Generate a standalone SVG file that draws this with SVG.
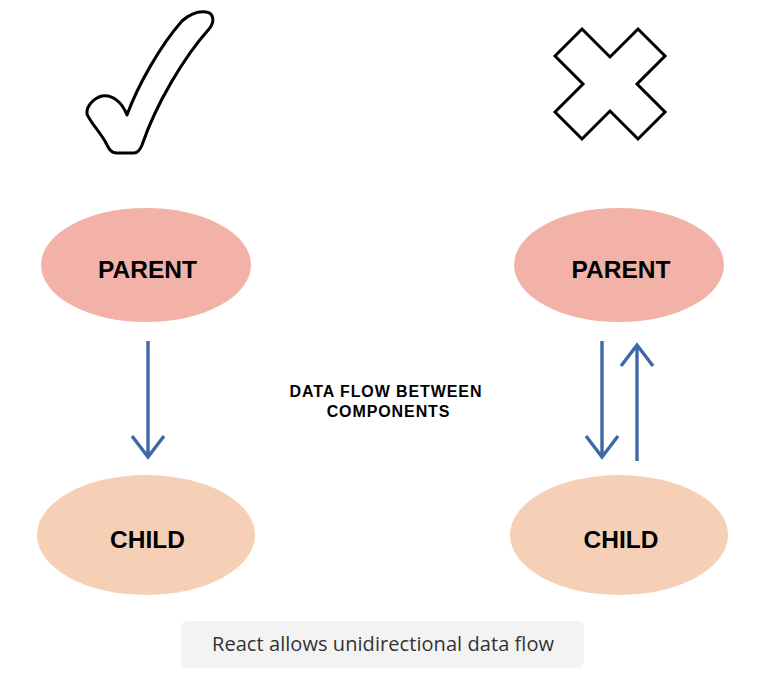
<svg xmlns="http://www.w3.org/2000/svg" width="760" height="692" viewBox="0 0 760 692">
<style>
.parent{fill:#F2B2A8}
.child{fill:#F6D0B6}
.lbl{font-family:"Liberation Sans",Arial,sans-serif;font-weight:bold;font-size:24.5px;fill:#000;text-anchor:middle}
.conn{fill:none;stroke:#3D6AA6;stroke-width:3.4;stroke-linecap:butt;stroke-linejoin:miter}
.icon{fill:#fff;stroke:#000;stroke-width:3;stroke-linejoin:round}
.title{font-family:"Liberation Sans",Arial,sans-serif;font-weight:bold;font-size:16px;letter-spacing:0.9px;fill:#000;text-anchor:middle}
</style>
<rect width="760" height="692" fill="#fff"/>
<g id="check">
<path class="icon" d="M127,115 C122,102 112,94 102,96 C94,98 86,106 87,114 C90,122 100,132 106,143 C109,149 111,153 117,153 L134,153 C138,153 140,150 142,145 C156,104 184,57 209,29 C215,22 214,13 206,12 C199,11 190,14 182,21 C160,46 138,85 127,115 Z"/>
</g>
<g id="cross">
<polygon class="icon" points="582,29 610,57 638,29 665,56 637,84 665,112 638,139 610,111 582,139 555,112 583,84 555,56" style="stroke-linejoin:miter"/>
</g>
<g id="parent-left">
<ellipse class="parent" cx="146" cy="265" rx="105" ry="57"/>
<text class="lbl" x="147.5" y="278">PARENT</text>
</g>
<g id="child-left">
<ellipse class="child" cx="146" cy="535" rx="109" ry="60"/>
<text class="lbl" x="147.5" y="548">CHILD</text>
</g>
<g id="parent-right">
<ellipse class="parent" cx="619" cy="265" rx="105" ry="57"/>
<text class="lbl" x="621" y="278">PARENT</text>
</g>
<g id="child-right">
<ellipse class="child" cx="619" cy="535" rx="109" ry="60"/>
<text class="lbl" x="621" y="548">CHILD</text>
</g>
<g id="connectors">
<path class="conn" d="M148,341 V457 M132,436 L148,457 L164,436"/>
<path class="conn" d="M602,341 V457 M586,436 L602,457 L618,436"/>
<path class="conn" d="M637,461 V345 M621,366 L637,345 L653,366"/>
</g>
<g id="title">
<text class="title" x="386" y="397">DATA FLOW BETWEEN</text>
<text class="title" x="388.5" y="417">COMPONENTS</text>
</g>
<g id="caption">
<rect x="181" y="621" width="403" height="47" rx="6" fill="#F3F3F3"/>
<text x="383" y="651" font-family="'Open Sans',Lato,sans-serif" font-size="20" fill="#333" text-anchor="middle" textLength="342">React allows unidirectional data flow</text>
</g>
</svg>
